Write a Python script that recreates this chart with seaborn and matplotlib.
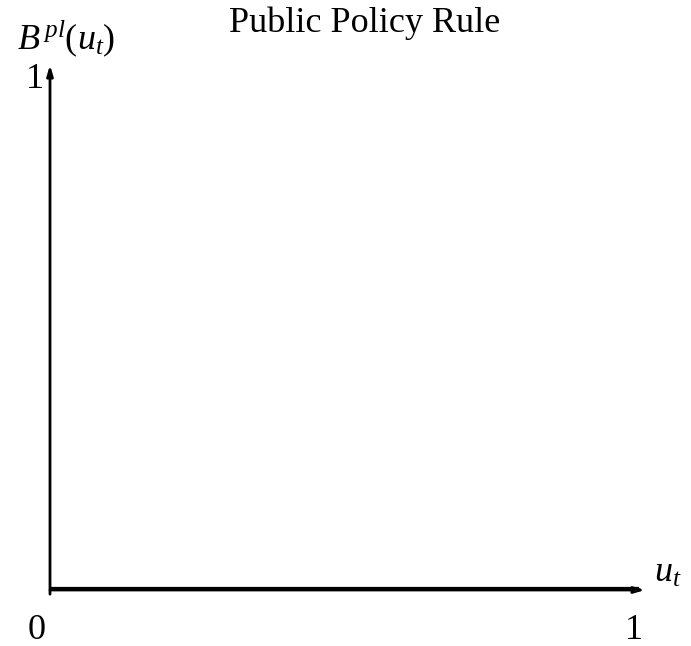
import numpy as np
import matplotlib
matplotlib.use("Agg")
import matplotlib.pyplot as plt
import seaborn as sns
import pandas as pd

# policy rule: B^pl(u_t) over the unit interval
u_values = [0.0, 0.99]
b_values = [0.0, 0.0]
tick_labels = ["0", "1"]
title = "Public Policy Rule"

sns.set_theme(style="white")
plt.rcParams['font.family'] = ['Liberation Serif', 'DejaVu Serif']
plt.rcParams['mathtext.fontset'] = 'custom'
plt.rcParams['mathtext.rm'] = 'Liberation Serif'
plt.rcParams['mathtext.it'] = 'Liberation Serif:italic'
plt.rcParams['text.color'] = 'black'

fig = plt.figure(figsize=(6.91, 6.46), dpi=100)
ax = fig.add_axes([50 / 691, 56 / 646, 595 / 691, 525 / 646])

df = pd.DataFrame({"u": u_values, "B": b_values})
sns.lineplot(data=df, x="u", y="B", color="black", linewidth=4.5,
             solid_capstyle="butt", ax=ax)

ax.set_xlim(0, 1.0)
ax.set_ylim(0, 1.0)
for s in ax.spines.values():
    s.set_visible(False)
ax.set_xticks([])
ax.set_yticks([])
ax.set_xlabel("")
ax.set_ylabel("")

# axes with small arrow heads
arrow = dict(arrowstyle="-|>,head_length=0.5,head_width=0.15", color="black",
             lw=2, shrinkA=0, shrinkB=0)
ax.annotate("", xy=(1.0, 0), xytext=(0, 0), arrowprops=arrow,
            annotation_clip=False)
ax.annotate("", xy=(0, 1.0), xytext=(0, -0.008), arrowprops=arrow,
            annotation_clip=False)

fs = 26
ax.text(-0.022, -0.045, tick_labels[0], ha="center", va="top", fontsize=fs,
        transform=ax.transAxes)
ax.text(0.982, -0.045, tick_labels[1], ha="center", va="top", fontsize=fs,
        transform=ax.transAxes)
ax.text(-0.025, 0.973, tick_labels[1], ha="center", va="center", fontsize=fs,
        transform=ax.transAxes)
ax.text(1.015, 0.0, r"$u_{t}$", ha="left", va="bottom", fontsize=fs,
        transform=ax.transAxes)
ax.text(-0.055, 1.012, r"$B^{\,pl}(u_{t})$", ha="left", va="bottom", fontsize=fs,
        transform=ax.transAxes)
fig.text(365 / 691, 1 - 23 / 646, title, ha="center", va="center", fontsize=fs)

fig.savefig("out.png", dpi=100)
